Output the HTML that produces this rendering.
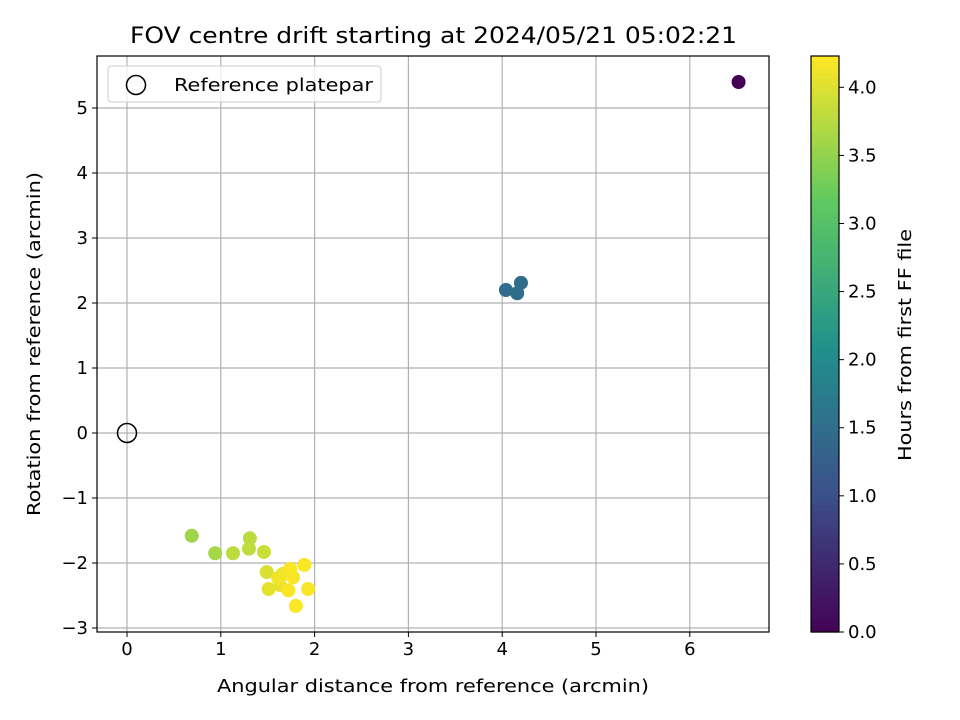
<!DOCTYPE html>
<html><head><meta charset="utf-8"><style>
body{margin:0;background:#fff}
svg{display:block;font-family:"DejaVu Sans","Liberation Sans",sans-serif}
</style></head><body>
<svg id="c" width="960" height="720" viewBox="0 0 960 720"></svg>
<script>
const xVals=[6.52,4.04,4.16,4.20,0.69,0.94,1.13,1.31,1.30,1.46,1.49,1.51,1.63,1.66,1.61,1.74,1.77,1.72,1.89,1.93,1.80];
const yVals=[5.40,2.20,2.15,2.31,-1.58,-1.85,-1.85,-1.62,-1.78,-1.83,-2.14,-2.40,-2.34,-2.17,-2.23,-2.09,-2.22,-2.42,-2.03,-2.40,-2.66];
const hours=[0,1.5,1.5,1.5,3.6,3.65,3.8,3.8,3.82,3.9,4.0,4.05,4.1,4.15,4.15,4.2,4.2,4.2,4.2,4.2,4.22];
const xTicks=[0,1,2,3,4,5,6];
const yTicks=[-3,-2,-1,0,1,2,3,4,5];
const cTicks=[0,0.5,1,1.5,2,2.5,3,3.5,4];
const L=97,R=769,T=56,B=632;
const X=v=>127+v*93.8, Y=v=>433-v*65;
const CB={x:811,w:28,top:56,bot:632,max:4.23};
const C=v=>CB.bot-(v/CB.max)*(CB.bot-CB.top);
const stops=[[0,[68,1,84]],[0.25,[59,82,139]],[0.5,[33,145,140]],[0.75,[94,201,98]],[1,[253,231,37]]];
function vir(t){t=Math.max(0,Math.min(1,t));for(let i=1;i<stops.length;i++){if(t<=stops[i][0]){const a=stops[i-1],b=stops[i],f=(t-a[0])/(b[0]-a[0]);return 'rgb('+a[1].map((c,k)=>Math.round(c+(b[1][k]-c)*f)).join(',')+')';}}}
const s=document.getElementById('c');const NS='http://www.w3.org/2000/svg';
function el(t,a,txt){const e=document.createElementNS(NS,t);for(const k in a)e.setAttribute(k,a[k]);if(txt!==undefined)e.textContent=txt;s.appendChild(e);return e;}
let e;
xTicks.forEach(v=>{e=el('line',{x1:X(v),x2:X(v),y1:T,y2:B,stroke:'#b0b0b0','stroke-width':1.2});

e=el('line',{x1:X(v),x2:X(v),y1:B,y2:B+5,stroke:'#000'});

e=el('text',{x:X(v),y:B+23,'text-anchor':'middle','font-size':18},v);
});
yTicks.forEach(v=>{e=el('line',{x1:L,x2:R,y1:Y(v),y2:Y(v),stroke:'#b0b0b0','stroke-width':1.2});

e=el('line',{x1:L-5,x2:L,y1:Y(v),y2:Y(v),stroke:'#000'});

e=el('text',{x:L-9,y:Y(v)+6,'text-anchor':'end','font-size':18},v<0?'\u2212'+(-v):v);
});
xVals.forEach((v,i)=>{e=el('circle',{cx:X(v),cy:Y(yVals[i]),r:7,fill:vir(hours[i]/CB.max)});
});
e=el('circle',{cx:X(0),cy:Y(0),r:9.5,fill:'none',stroke:'#000','stroke-width':1.5});

e=el('rect',{x:L,y:T,width:R-L,height:B-T,fill:'none',stroke:'#000','stroke-width':1.2});

e=el('rect',{x:108,y:66,width:273,height:36,rx:3,fill:'#fff','fill-opacity':0.8,stroke:'#ccc'});

e=el('circle',{cx:136,cy:85,r:9.5,fill:'none',stroke:'#000','stroke-width':1.5});

e=el('text',{x:174,y:91,'font-size':18,textLength:199,lengthAdjust:'spacingAndGlyphs'},'Reference platepar');

e=el('text',{x:130,y:43,'font-size':22,textLength:607,lengthAdjust:'spacingAndGlyphs'},'FOV centre drift starting at 2024/05/21 05:02:21');

e=el('text',{x:217,y:692,'font-size':18,textLength:432,lengthAdjust:'spacingAndGlyphs'},'Angular distance from reference (arcmin)');

e=el('text',{x:0,y:0,'font-size':18,textLength:344,lengthAdjust:'spacingAndGlyphs',transform:'translate(40,516) rotate(-90)'},'Rotation from reference (arcmin)');

for(let i=0;i<100;i++){const a=CB.top+(CB.bot-CB.top)*i/100;
e=el('rect',{x:CB.x,y:a,width:CB.w,height:(CB.bot-CB.top)/100+0.6,fill:vir(1-i/100)});
}
e=el('rect',{x:CB.x,y:CB.top,width:CB.w,height:CB.bot-CB.top,fill:'none',stroke:'#000','stroke-width':1.2});

cTicks.forEach(v=>{e=el('line',{x1:CB.x+CB.w,x2:CB.x+CB.w+5,y1:C(v),y2:C(v),stroke:'#000'});

e=el('text',{x:CB.x+CB.w+9,y:C(v)+6,'font-size':18},v.toFixed(1));
});
e=el('text',{x:0,y:0,'font-size':18,textLength:232,lengthAdjust:'spacingAndGlyphs',transform:'translate(911,461) rotate(-90)'},'Hours from first FF file');

</script>
</body></html>
